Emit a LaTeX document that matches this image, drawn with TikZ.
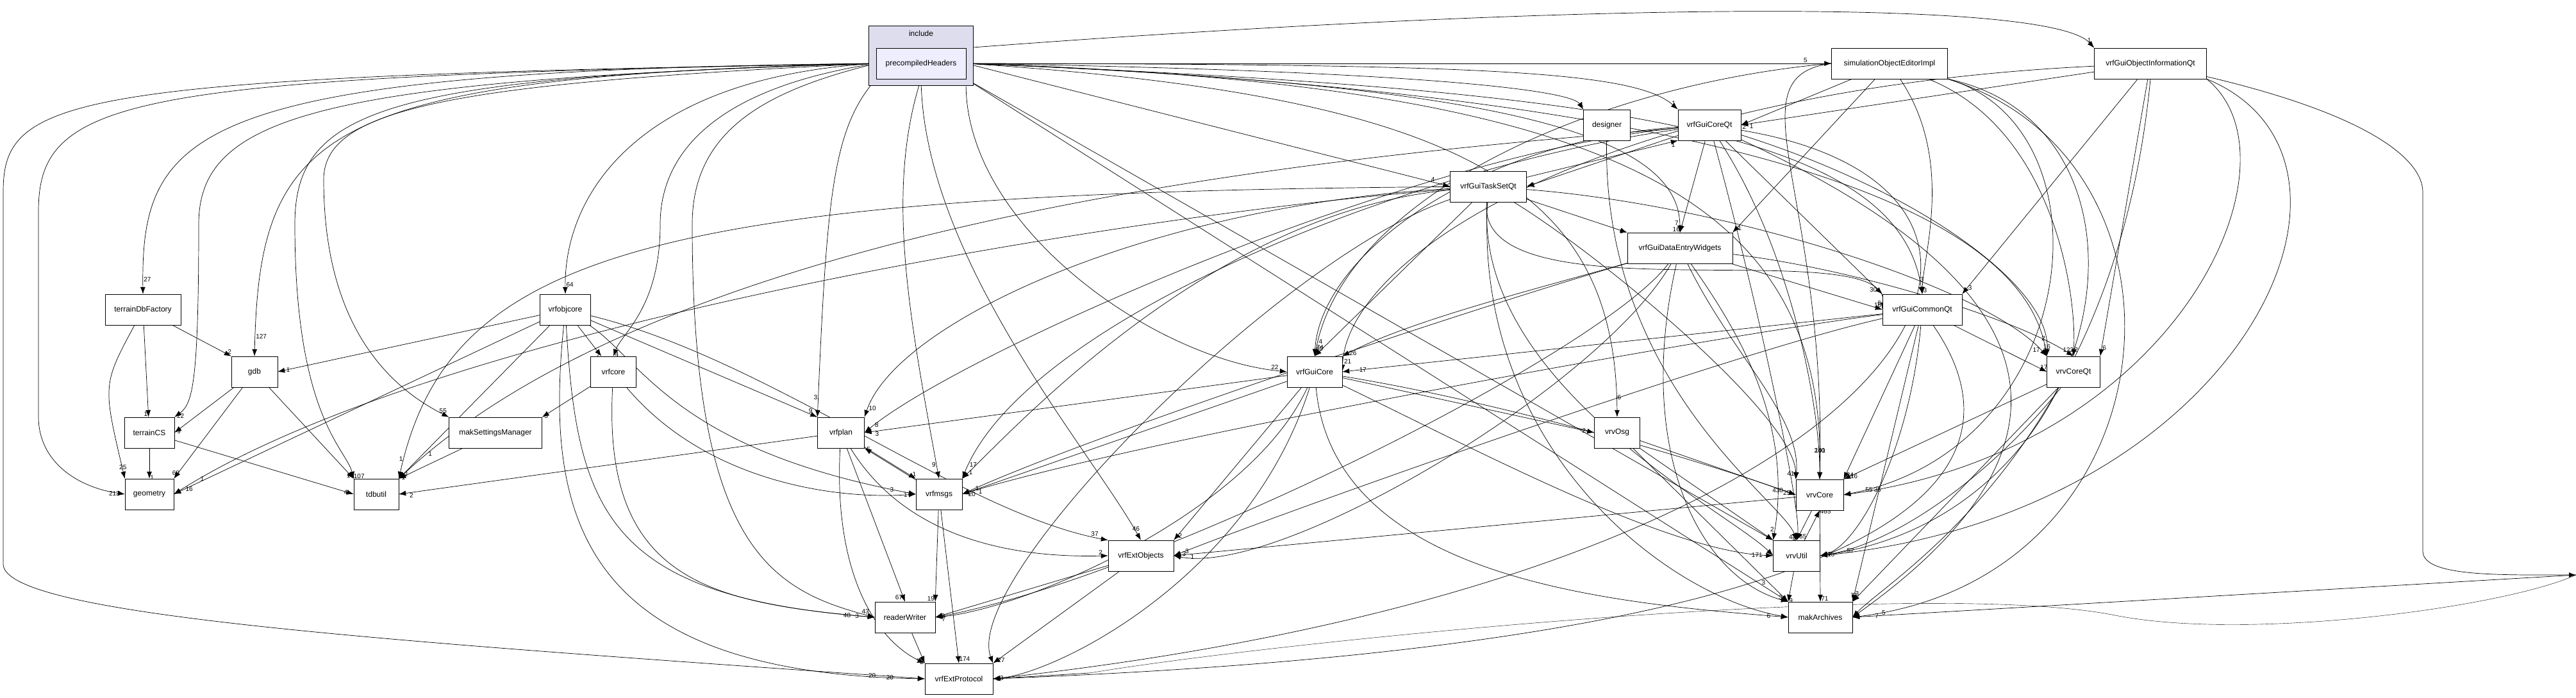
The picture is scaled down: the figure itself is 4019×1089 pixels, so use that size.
\documentclass[tikz,border=0pt]{standalone}
\usepackage{fontspec}
\setmainfont{Liberation Sans}
\usetikzlibrary{arrows.meta}
\pgfdeclarelayer{bg}
\pgfsetlayers{bg,main}
\begin{document}
\begin{tikzpicture}[x=1pt,y=-1pt,
  box/.style={draw,fill=white,minimum height=48pt,inner sep=2pt,font=\fontsize{12}{12}\selectfont},
  e/.style={-{Latex[length=11pt,width=8pt]},line width=0.7pt},
  lb/.style={font=\fontsize{10}{10}\selectfont,inner sep=1pt,pos=0.97}]
\useasboundingbox (0,0) rectangle (4019,1089);
\draw[fill={rgb,255:red,221;green,221;blue,238}] (1355,40) rectangle (1518,133);
\node[font=\fontsize{12}{12}\selectfont] (inc) at (1437,52) {include};
\node[box,fill={rgb,255:red,238;green,238;blue,255},minimum width=140pt] (P) at (1437,99) {precompiledHeaders};
\node[box,minimum width=118pt] (tdf) at (223,483) {terrainDbFactory};
\node[box,minimum width=72pt] (gdb) at (397,580) {gdb};
\node[box,minimum width=78pt] (tcs) at (233,675) {terrainCS};
\node[box,minimum width=76pt] (geo) at (233,771) {geometry};
\node[box,minimum width=70pt] (tdb) at (587,771) {tdbutil};
\node[box,minimum width=79pt] (obj) at (882,483) {vrfobjcore};
\node[box,minimum width=71pt] (core) at (957,580) {vrfcore};
\node[box,minimum width=145pt] (mss) at (773,675) {makSettingsManager};
\node[box,minimum width=73pt] (plan) at (1312,675) {vrfplan};
\node[box,minimum width=72pt] (msgs) at (1465,771) {vrfmsgs};
\node[box,minimum width=94pt] (rw) at (1412,963) {readerWriter};
\node[box,minimum width=106pt] (ext) at (1496,1059) {vrfExtProtocol};
\node[box,minimum width=102pt] (eob) at (1780,867) {vrfExtObjects};
\node[box,minimum width=86pt] (gc) at (2051,580) {vrfGuiCore};
\node[box,minimum width=119pt] (ts) at (2322,291) {vrfGuiTaskSetQt};
\node[box,minimum width=73pt] (des) at (2507,195) {designer};
\node[box,minimum width=98pt] (gcq) at (2667,195) {vrfGuiCoreQt};
\node[box,minimum width=164pt] (de) at (2621,387) {vrfGuiDataEntryWidgets};
\node[box,minimum width=71pt] (osg) at (2523,675) {vrvOsg};
\node[box,minimum width=181pt] (soe) at (2948,99) {simulationObjectEditorImpl};
\node[box,minimum width=175pt] (goi) at (3355,99) {vrfGuiObjectInformationQt};
\node[box,minimum width=124pt] (cq) at (2999,483) {vrfGuiCommonQt};
\node[box,minimum width=83pt] (vcq) at (3235,580) {vrvCoreQt};
\node[box,minimum width=74pt] (vc) at (2839,772) {vrvCore};
\node[box,minimum width=73pt] (vu) at (2803,867) {vrvUtil};
\node[box,minimum width=100pt] (ma) at (2840,963) {makArchives};
\coordinate (rt) at (4019,897);
\begin{pgfonlayer}{bg}
% precompiledHeaders
\draw[e] (P.west) .. controls (300,110) and (220,200) .. node[lb,right]{27} (tdf.north);
\draw[e] (P.west) .. controls (500,120) and (405,200) .. node[lb,right]{127} (gdb.north);
\draw[e] (P.west) .. controls (500,125) and (310,180) .. (310,350) .. controls (310,600) and (300,630) .. node[lb,right]{22} (tcs.north east);
\draw[e] (P.west) .. controls (200,120) and (60,150) .. (60,330) -- (60,650) .. controls (60,720) and (120,760) .. node[lb,left]{213} (geo.west);
\draw[e] (P.west) .. controls (100,120) and (5,150) .. (5,300) -- (5,880) .. controls (5,960) and (600,1000) .. node[lb,left]{20} (ext.west);
\draw[e] (P.west) .. controls (600,120) and (460,170) .. (460,350) .. controls (460,650) and (540,700) .. node[lb,right]{107} (tdb.north west);
\draw[e] (P.west) .. controls (700,130) and (505,170) .. (505,280) .. controls (505,500) and (600,600) .. node[lb,above]{55} (mss.north west);
\draw[e] (P.west) .. controls (1000,120) and (880,300) .. node[lb,right]{64} (obj.north);
\draw[e] (P.west) .. controls (1100,140) and (1030,250) .. (1030,350) .. controls (1030,480) and (970,520) .. node[lb,right]{4} (core.north);
\draw[e] (P.west) .. controls (1200,140) and (1080,200) .. (1080,350) .. controls (1080,850) and (1200,920) .. node[lb,above]{43} (rw.west);
\draw[e] (P.south west) .. controls (1300,200) and (1290,300) .. node[lb,left]{3} (plan.north west);
\draw[e] (P.south) .. controls (1380,300) and (1420,500) .. node[lb,left]{9} (msgs.north);
\draw[e] (P.south) .. controls (1440,400) and (1700,700) .. node[lb,above]{46} (eob.north);
\draw[e] (P.south east) .. controls (1500,350) and (1800,560) .. node[lb,above]{22} (gc.west);
\draw[e] (P.east) -- node[lb,above left]{4} (ts.west);
\draw[e] (P.east) .. controls (2200,110) and (2450,140) .. node[lb,above]{1} (des.north west);
\draw[e] (P.east) .. controls (2300,100) and (2550,110) .. node[lb,above]{1} (gcq.north west);
\draw[e] (P.east) -- node[lb,above]{5} (soe.west);
\draw[e] (P.north east) .. controls (2500,0) and (3200,0) .. node[lb,above]{1} (goi.north west);
\draw[e] (P.east) .. controls (2300,130) and (2620,200) .. node[lb,left]{7} (de.north);
\draw[e] (P.east) .. controls (2500,140) and (2960,200) .. node[lb,right]{3} (cq.north);
\draw[e] (P.east) .. controls (2600,140) and (3150,300) .. node[lb,above]{2} (vcq.north west);
\draw[e] (P.east) .. controls (2500,130) and (2850,300) .. node[lb,above]{240} (vc.north);
\draw[e] (P.south east) -- (vu.north west);
\draw[e] (P.south east) -- node[lb,above]{3} (ma.north west);
\draw[e] (P.east) .. controls (2300,150) and (2520,300) .. node[lb,right]{6} (osg.north);
% left cluster
\draw[e] (tdf) -- node[lb,above]{2} (gdb.north west);
\draw[e] (tdf) -- node[lb,left]{1} (tcs);
\draw[e] (tdf) .. controls (160,600) .. node[lb,above]{25} (geo.north west);
\draw[e] (gdb) -- node[lb,right]{9} (tcs.east);
\draw[e] (gdb) -- node[lb,above]{60} (geo.north east);
\draw[e] (gdb) -- node[lb,left]{1} (tdb.north west);
\draw[e] (tcs) -- node[lb,right]{1} (geo);
\draw[e] (tcs) -- node[lb,left]{4} (tdb.west);
\draw[e] (mss) -- node[lb,right]{1} (tdb.north east);
\draw[e] (obj) -- node[lb,right]{1} (gdb.east);
\draw[e] (obj) -- node[lb,right]{16} (geo.east);
\draw[e] (obj) -- node[lb,right]{2} (tdb.north east);
\draw[e] (obj) -- node[lb,left]{7} (core);
\draw[e] (obj) -- node[lb,above]{9} (plan.north west);
\draw[e] (obj) .. controls (1000,560) and (1050,700) .. node[lb,left]{3} (msgs.west);
\draw[e] (obj) .. controls (900,800) and (950,930) .. node[lb,left]{48} (rw.west);
\draw[e] (obj) .. controls (850,800) and (900,1050) .. node[lb,left]{20} (ext.west);
\draw[e] (obj) .. controls (1200,560) and (1500,800) .. node[lb,above]{37} (eob.north west);
\draw[e] (core) -- node[lb,right]{3} (mss.north east);
\draw[e] (core) .. controls (1100,750) and (1300,780) .. node[lb,left]{1} (msgs.west);
\draw[e] (core) .. controls (940,900) and (1100,940) .. node[lb,left]{3} (rw.west);
\draw[e] (plan) -- node[lb,below]{2} (tdb.east);
\draw[e] (plan) -- node[lb,above]{1} (msgs.north west);
\draw[e] (msgs) -- node[lb,right]{5} (plan.south east);
\draw[e] (plan) -- node[lb,left]{67} (rw.north);
\draw[e] (plan) .. controls (1300,900) and (1370,1000) .. node[lb,left]{1} (ext.north west);
\draw[e] (plan) .. controls (1420,850) and (1600,870) .. node[lb,above]{2} (eob.west);
\draw[e] (msgs) -- node[lb,left]{19} (rw.north east);
\draw[e] (msgs) -- node[lb,right]{174} (ext.north);
\draw[e] (rw) -- node[lb,left]{2} (ext.north west);
\draw[e] (eob) -- node[lb,right]{9} (rw.east);
\draw[e] (eob) -- node[lb,right]{27} (ext.north east);
% vrfGuiCore
\draw[e] (gc) -- node[lb,below]{3} (plan.east);
\draw[e] (gc) -- node[lb,below]{20} (msgs.east);
\draw[e] (gc) -- node[lb,right]{2} (eob.north east);
\draw[e] (gc) .. controls (1950,800) and (1600,950) .. node[lb,below]{7} (rw.east);
\draw[e] (gc) .. controls (1950,900) and (1650,1050) .. node[lb,right]{3} (ext.east);
\draw[e] (gc) -- node[lb,left]{2} (osg.west);
\draw[e] (gc) .. controls (2300,620) and (2600,700) .. node[lb,left]{430} (vc.west);
\draw[e] (gc) .. controls (2300,700) and (2600,860) .. node[lb,left]{171} (vu.west);
\draw[e] (gc) .. controls (2080,900) and (2500,940) .. node[lb,left]{6} (ma.west);
% TaskSet
\draw[e] (ts) -- node[lb,below]{1} (gcq.south west);
\draw[e] (gcq) -- node[lb,right]{1} (ts.east);
\draw[e] (ts) -- node[lb,left]{6} (de.north west);
\draw[e] (ts) -- node[lb,above]{40} (gc.north);
\draw[e] (ts) .. controls (1800,320) and (1400,500) .. node[lb,right]{10} (plan.north east);
\draw[e] (ts) .. controls (1900,330) and (1600,650) .. node[lb,right]{1} (msgs.north east);
\draw[e] (ts) .. controls (1000,300) and (700,400) .. node[lb,left]{1} (tdb.north east);
\draw[e] (ts) .. controls (1800,330) and (700,500) .. node[lb,right]{1} (geo.east);
\draw[e] (ts) .. controls (2300,500) and (2950,360) .. node[lb,left]{6} (cq.west);
\draw[e] (ts) .. controls (2700,320) and (3100,450) .. node[lb,left]{17} (vcq.north west);
\draw[e] (ts) .. controls (2500,400) and (2800,650) .. node[lb,left]{41} (vc.north west);
\draw[e] (ts) .. controls (2300,600) and (2700,800) .. (vu.west);
\draw[e] (ts) .. controls (2300,700) and (2600,930) .. (ma.west);
\draw[e] (ts) .. controls (2000,400) and (1500,900) .. (ext.north east);
% vrfGuiCoreQt
\draw[e] (gcq) -- node[lb,left]{16} (de.north);
\draw[e] (gcq) .. controls (2300,220) and (2060,400) .. node[lb,right]{74} (gc.north);
\draw[e] (gcq) .. controls (2200,260) and (1600,500) .. node[lb,right]{17} (msgs.north east);
\draw[e] (gcq) .. controls (2200,240) and (1500,550) .. node[lb,right]{8} (plan.east);
\draw[e] (gcq) .. controls (2300,230) and (1100,300) .. node[lb,right]{1} (tdb.north east);
\draw[e] (gcq) -- node[lb,left]{30} (cq.north west);
\draw[e] (gcq) .. controls (3000,300) and (3200,450) .. node[lb,above]{16} (vcq.north west);
\draw[e] (gcq) .. controls (2800,400) and (2840,650) .. (vc.north);
\draw[e] (gcq) .. controls (2750,500) and (2810,800) .. node[lb,left]{44} (vu.north);
\draw[e] (gcq) .. controls (3000,350) and (3400,600) .. (ma.east);
\draw[e] (gcq) .. controls (3300,300) and (3000,900) .. (ext.east);
\draw[e] (des) .. controls (2500,600) and (2780,780) .. node[lb,right]{465} (vu.north);
% DataEntry
\draw[e] (de) .. controls (2400,450) and (2200,500) .. node[lb,right]{26} (gc.north east);
\draw[e] (de) .. controls (2300,480) and (1700,680) .. node[lb,right]{1} (msgs.east);
\draw[e] (de) .. controls (2500,600) and (2000,900) .. node[lb,above]{3} (eob.east);
\draw[e] (de) .. controls (2500,550) and (1800,900) .. (rw.east);
\draw[e] (de) -- node[lb,above]{16} (cq.west);
\draw[e] (de) .. controls (2900,420) and (3150,500) .. node[lb,above]{122} (vcq.north);
\draw[e] (de) .. controls (2700,500) and (2800,650) .. node[lb,left]{2} (vu.north west);
\draw[e] (de) .. controls (2700,550) and (2810,650) .. (vc.north west);
\draw[e] (de) .. controls (2550,700) and (2650,900) .. (ma.north west);
% osg
\draw[e] (osg) -- node[lb,left]{25} (vc.west);
\draw[e] (osg) -- (vu.north west);
\draw[e] (osg) -- node[lb,left]{3} (ma.north west);
% CommonQt
\draw[e] (cq) -- node[lb,right]{17} (gc.east);
\draw[e] (cq) -- node[lb,above]{17} (vcq.west);
\draw[e] (cq) -- node[lb,right]{24} (vc.north east);
\draw[e] (cq) .. controls (2980,700) and (2900,850) .. node[lb,right]{47} (vu.east);
\draw[e] (cq) -- node[lb,right]{3} (ma.north east);
\draw[e] (cq) .. controls (2700,550) and (2000,800) .. node[lb,right]{3} (eob.east);
\draw[e] (cq) .. controls (2700,520) and (1800,680) .. node[lb,below]{1} (msgs.east);
\draw[e] (cq) .. controls (3150,700) and (3100,1000) .. (ext.east);
% vrvCoreQt
\draw[e] (vcq) -- node[lb,right]{16} (vc.north east);
\draw[e] (vcq) .. controls (3100,750) and (2950,850) .. node[lb,right]{15} (vu.east);
\draw[e] (vcq) -- node[lb,left]{71} (ma.north east);
% vrvCore, vrvUtil
\draw[e] (vc) -- node[lb,left]{4} (vu.north);
\draw[e] (vu) -- node[lb,right]{465} (vc.south);
\draw[e] (vc) -- node[lb,right]{71} (ma.north);
\draw[e] (vu) -- node[lb,right]{9} (ma.north west);
\draw[e] (vc) -- node[lb,below]{1} (eob.east);
% simulationObjectEditorImpl
\draw[e] (soe) -- node[lb,below]{2} (gcq.east);
\draw[e] (soe) -- node[lb,right]{1} (de.north east);
\draw[e] (soe) .. controls (3050,250) and (3000,400) .. node[lb,right]{3} (cq.north);
\draw[e] (soe) .. controls (3200,200) and (3240,450) .. node[lb,right]{2} (vcq.north);
\draw[e] (soe.south east) .. controls (3300,200) and (3250,700) .. node[lb,right]{55} (vc.east);
\draw[e] (soe.south east) .. controls (3400,200) and (3300,800) .. node[lb,right]{57} (vu.east);
\draw[e] (soe.south east) .. controls (3450,250) and (3400,900) .. node[lb,right]{5} (ma.east);
\draw[e] (soe.west) .. controls (2500,130) and (2100,300) .. node[lb,right]{4} (gc.north);
\draw[e] (soe.west) .. controls (2700,120) and (2850,300) .. node[lb,above]{101} (vc.north);
% vrfGuiObjectInformationQt
\draw[e] (goi) -- node[lb,below]{1} (gcq.east);
\draw[e] (goi) -- node[lb,right]{3} (cq.north east);
\draw[e] (goi) -- node[lb,right]{6} (vcq.north east);
\draw[e] (goi.south east) .. controls (3600,250) and (3400,700) .. node[lb,right]{35} (vc.east);
\draw[e] (goi.south east) .. controls (3750,250) and (3500,800) .. (vu.east);
\draw[e] (goi) .. controls (2500,140) and (2100,400) .. node[lb,right]{21} (gc.east);
\draw[e] (goi) .. controls (3700,180) and (3780,250) .. (3780,300) -- (3780,860) .. controls (3780,900) and (3900,897) .. (rt);
\draw (rt) .. controls (3900,950) and (3500,1000) .. (3300,960) .. controls (3000,900) and (2000,1000) .. (1700,1050);
\draw[e] (1700,1050) -- node[lb,right]{2} (ext.east);
\draw[e] (rt) -- node[lb,right]{7} (ma.east);
\draw[e] (goi.south) .. controls (3300,700) and (2950,900) .. (ma.east);
\end{pgfonlayer}
\end{tikzpicture}
\end{document}
